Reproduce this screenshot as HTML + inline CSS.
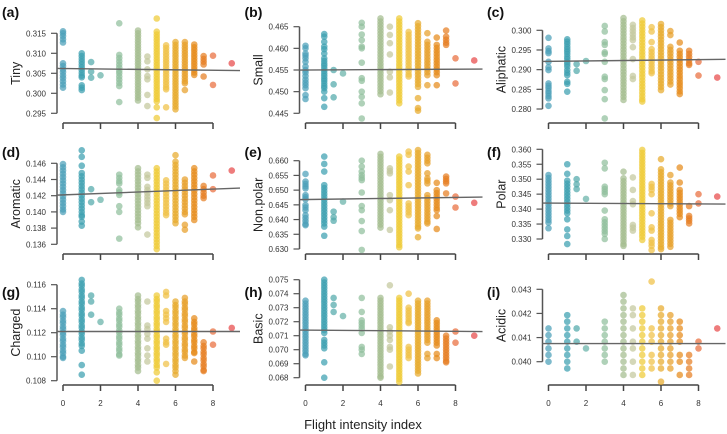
<!DOCTYPE html>
<html><head><meta charset="utf-8"><style>
html,body{margin:0;padding:0;background:#fff;width:727px;height:434px;overflow:hidden}
svg text{font-family:"Liberation Sans",sans-serif}
</style></head><body>
<svg id="chart" width="727" height="434" viewBox="0 0 727 434" xmlns="http://www.w3.org/2000/svg">
<text x="363" y="429" font-size="13" fill="#222" text-anchor="middle">Flight intensity index</text>
</svg>
<script>
const xCats=[0,1,1.5,2,3,4,4.5,5,5.5,6,6.5,7,7.5,8,9];
const xTickLabels=[0,2,4,6,8];
const catColors=["#4b9fb8","#3c9fb0","#52a9ab","#66b2a8","#90bf9c","#a3bc8f","#c3c89c","#efcb36","#f0c045","#e8ab2c","#e89f2a","#e68b1b","#e67e22","#e96d3d","#e84a4a"];
const panelLetters=["(a)","(b)","(c)","(d)","(e)","(f)","(g)","(h)","(i)"];
const panelTitles=["Tiny","Small","Aliphatic","Aromatic","Non.polar","Polar","Charged","Basic","Acidic"];
const tinyTicks=[0.295,0.300,0.305,0.310,0.315];
const smallTicks=[0.445,0.450,0.455,0.460,0.465];
const aliphaticTicks=[0.280,0.285,0.290,0.295,0.300];
const aromaticTicks=[0.136,0.138,0.140,0.142,0.144,0.146];
const nonpolarTicks=[0.630,0.635,0.640,0.645,0.650,0.655,0.660];
const polarTicks=[0.330,0.335,0.340,0.345,0.350,0.355,0.360];
const chargedTicks=[0.108,0.110,0.112,0.114,0.116];
const basicTicks=[0.068,0.069,0.070,0.071,0.072,0.073,0.074,0.075];
const acidicTicks=[0.040,0.041,0.042,0.043];
const trendTiny=[0.3062,0.3057];
const trendSmall=[0.4550,0.4552];
const trendAliphatic=[0.2921,0.2926];
const trendAromatic=[0.1421,0.1429];
const trendNonpolar=[0.6468,0.6476];
const trendPolar=[0.3420,0.3417];
const trendCharged=[0.1121,0.1121];
const trendBasic=[0.0714,0.0713];
const trendAcidic=[0.04075,0.04075];

const tinyVals=[
[.3155,.315,.3143,.3135,.3127,.3075,.3068,.306,.3053,.3045,.3038,.303,.3022,.3014],
[.310,.3093,.3086,.3079,.3072,.3065,.3058,.3051,.3044,.304,.302,.3014,.3008],
[.3078,.3054,.3039],[.3045],
[.3175,.3096,.3088,.308,.3072,.3064,.3056,.305,.3042,.3034,.3026,.3018,.2978],
[.3157,.315,.3143,.3136,.3129,.3122,.3115,.3108,.3101,.3094,.3087,.308,.3073,.3066,.3059,.3052,.3045,.3038,.3031,.3024,.3017,.301,.3003,.2996,.2989,.2982],
[.3092,.308,.306,.3043,.3035,.2996,.2968],
[.3187,.3154,.3147,.314,.3133,.3126,.3119,.3112,.3105,.3098,.3091,.3084,.3077,.307,.3063,.3056,.3049,.3042,.3035,.3028,.3021,.3014,.3007,.30,.2993,.2986,.298,.2965,.2938],
[.312,.3113,.3106,.3099,.3092,.3085,.3078,.3071,.3064,.3057,.305,.3043,.3036,.3029,.3022,.3015,.301,.2965],
[.3128,.3121,.3114,.3107,.31,.3093,.3086,.3079,.3072,.3065,.3058,.3051,.3044,.3037,.303,.3023,.3016,.3009,.3002,.2995,.2988,.2981,.2974,.2967,.296],
[.3128,.3121,.3114,.3107,.31,.3093,.3086,.3079,.3072,.3065,.3058,.3051,.3044,.3037,.303,.3025,.3008],
[.3122,.3115,.3108,.3101,.3094,.3087,.308,.3073,.3066,.3059,.3052,.3046],
[.3093,.3086,.3079,.3072,.3042],[.3094,.3021],[.3075]];
const smallVals=[
[.4606,.460,.4588,.4583,.4577,.4569,.4558,.455,.4544,.4536,.4528,.4521,.4515,.4508,.4492,.4483],
[.4633,.4627,.4615,.4604,.4598,.4588,.4577,.4571,.4565,.456,.4554,.4548,.4542,.4536,.453,.4525,.4519,.4513,.4508,.450,.4485,.4465],
[.455,.4517,.4487],[.4542],
[.4659,.465,.4632,.4619,.4604,.460,.4567,.4531,.4525,.450,.4488,.4473,.4438],
[.4669,.4662,.4655,.4648,.4641,.4634,.4627,.462,.4613,.4606,.4599,.4592,.4585,.4578,.4571,.4564,.4557,.455,.4543,.4536,.4529,.4522,.4515,.4508,.4501,.4494],
[.465,.4631,.4612,.4586,.4546,.4533,.4498],
[.4669,.4662,.4655,.4648,.4641,.4634,.4627,.462,.4613,.4606,.4599,.4592,.4585,.4578,.4571,.4564,.4557,.455,.4543,.4536,.4529,.4522,.4515,.4508,.4501,.4494,.4487,.448,.4473],
[.4638,.4631,.4624,.4617,.461,.4603,.4596,.4589,.4582,.4575,.4568,.4561,.4554,.4547,.454,.4535],
[.4658,.4651,.4644,.4637,.463,.4623,.4616,.4609,.4602,.4595,.4588,.4581,.4574,.4567,.456,.4553,.4546,.4539,.4532,.4525,.4518,.4511,.4485,.4462,.4456],
[.4635,.4615,.4608,.4601,.4594,.4587,.458,.4573,.4566,.4559,.4552,.4545,.4538,.4515],
[.4625,.4608,.4601,.4594,.4587,.458,.4573,.4566,.4559,.4552,.4545,.4538,.4515],
[.4641,.4627,.462,.4613,.4608],[.4577,.4519],[.4572]];
const aliphaticVals=[
[.2981,.2954,.2947,.2942,.292,.2906,.2899,.2865,.2859,.2853,.2846,.284,.2833,.2827,.2808],
[.2977,.2971,.2965,.2958,.2952,.2946,.294,.2933,.2927,.292,.2914,.2908,.2899,.2892,.2886,.2869,.2864,.2844],
[.2914,.2897],[.2922],
[.3011,.2997,.297,.2963,.2944,.294,.292,.2882,.2876,.2848,.2825,.2776],
[.3031,.3023,.3015,.3007,.2999,.2991,.2983,.2975,.2967,.2959,.2951,.2943,.2935,.2927,.2919,.2911,.2903,.2895,.2887,.2879,.2871,.2863,.2855,.2847,.2839,.2831,.2823],
[.3014,.3006,.2998,.299,.2982,.2975,.2957,.2927,.2884,.2876],
[.3025,.3017,.3009,.3001,.2993,.2985,.2977,.2969,.2961,.2953,.2945,.2937,.2929,.2921,.2913,.2905,.2897,.2889,.2881,.2873,.2865,.2857,.2849,.2841,.2833,.2825,.2819],
[.3008,.2997,.297,.2952,.2944,.2936,.2928,.292,.2912,.2904,.2896,.2891],
[.3016,.3008,.30,.2992,.2984,.2976,.2968,.296,.2952,.2944,.2936,.2928,.292,.2912,.2904,.2896,.2888,.288,.2872,.2864,.2856,.2848],
[.2998,.2988,.2958,.295,.2942,.2934,.2926,.2918,.291,.2902,.2894,.2886,.2878,.287,.2862],
[.2969,.2948,.294,.2932,.2924,.2916,.2908,.29,.2892,.2884,.2876,.2868,.2861,.2853,.2845,.2838],
[.2948,.294,.2932,.2924,.2916,.2912],[.292,.2885],[.288]];
const aromaticVals=[
[.1459,.1455,.1451,.1447,.1443,.1439,.1435,.1431,.1427,.1423,.1419,.1415,.1411,.1407,.1403,.14],
[.1476,.1468,.1457,.1448,.1444,.144,.1436,.1432,.1428,.1424,.142,.1416,.1412,.1408,.1404,.14,.1396,.1394,.1388,.1383],
[.1428,.1412],[.1415],
[.1446,.1442,.1438,.1435,.1427,.1424,.1421,.1407,.14,.1367],
[.1454,.145,.1446,.1442,.1438,.1434,.143,.1426,.1422,.1418,.1414,.141,.1406,.1402,.1398,.1394,.139,.1386,.1381],
[.1446,.1442,.1431,.1427,.1423,.1419,.1415,.1411,.1407,.1372],
[.1454,.145,.1446,.1442,.1438,.1434,.143,.1426,.1422,.1418,.1414,.141,.1406,.1402,.1398,.1394,.139,.1386,.1382,.1378,.1374,.137,.1366,.1362,.1358,.1354],
[.1439,.1435,.1431,.1427,.1423,.1419,.1415,.1411,.1407,.1403,.1399,.1396],
[.147,.1462,.1458,.1454,.145,.1446,.1442,.1438,.1434,.143,.1426,.1422,.1418,.1414,.141,.1406,.1402,.1398,.1394,.139,.1386],
[.144,.1436,.1432,.1428,.1424,.142,.1416,.1412,.1408,.1404,.14,.1397,.1384,.1378],
[.1454,.145,.1446,.1442,.1438,.1434,.143,.1426,.1422,.1418,.1414,.141,.1406,.1402,.1398,.1394,.139],
[.1432,.1428,.1424,.142,.1417],[.1445,.1428],[.1451]];
const nonpolarVals=[
[.6555,.6529,.6521,.6513,.6506,.6483,.6476,.6469,.6449,.6441,.6432,.6415,.6405,.6395,.6385,.6381],
[.6614,.6589,.6563,.6517,.6507,.6497,.6487,.6477,.6467,.6457,.6447,.6437,.6427,.6417,.6407,.6397,.6387,.6376,.6345],
[.6427,.6408,.6396],[.6461],
[.66,.658,.6563,.6551,.6542,.6534,.6492,.6446,.6432,.6395,.6361,.6297],
[.6623,.6613,.6603,.6593,.6583,.6573,.6563,.6553,.6543,.6533,.6523,.6513,.6503,.6493,.6483,.6473,.6463,.6453,.6443,.6433,.6423,.6413,.6403,.6393,.6383,.6373],
[.6574,.6565,.6557,.6483,.6466,.6432,.6365],
[.6614,.6604,.6594,.6584,.6574,.6564,.6554,.6544,.6534,.6524,.6514,.6504,.6494,.6484,.6474,.6464,.6454,.6444,.6434,.6424,.6414,.6404,.6394,.6384,.6374,.6364,.6354,.6344,.6334,.6324,.6314,.6306],
[.6631,.662,.658,.6563,.6517,.6455,.6445,.6435,.6425,.6415],
[.6636,.6626,.6616,.6606,.6596,.6586,.6576,.6566,.6556,.6546,.6536,.6526,.6516,.6506,.6496,.6486,.6476,.6466,.6456,.6446,.6436,.6426,.6416,.6406,.6396,.6386,.6376,.637,.634],
[.662,.661,.66,.6591,.6557,.654,.6532,.6523,.6483,.6473,.6463,.6453,.6443,.6433,.6423,.6413,.6403,.6393,.6387],
[.6525,.65,.649,.648,.647,.646,.645,.644,.6432,.6412,.6368],
[.6546,.6538,.653,.6523,.6489],[.6478,.6441],[.6457]];
const polarVals=[
[.3514,.3504,.3494,.3484,.3474,.3464,.3454,.3444,.3434,.3424,.3414,.3404,.3394,.3384,.3374,.3364,.3355,.3336],
[.355,.3518,.3495,.3485,.3475,.3465,.3455,.3445,.3435,.3425,.3415,.3405,.3395,.3386,.3366,.3332,.331,.3283],
[.35,.3483,.3467],[.3434],
[.3555,.3536,.3475,.3467,.3458,.345,.3395,.3366,.3356,.3346,.3336,.3326,.3317,.33],
[.3525,.3503,.3493,.3483,.3473,.3463,.3453,.3443,.3433,.3423,.3413,.3403,.3393,.3383,.3373,.3363,.3353,.3343,.3333,.3323,.3313,.3303,.3293,.3283,.3277],
[.3506,.3464,.3427,.3416,.3347,.3338,.3328],
[.3598,.3588,.3578,.3568,.3558,.3548,.3538,.3528,.3518,.3508,.3498,.3488,.3478,.3468,.3458,.3448,.3438,.3428,.3418,.3408,.3398,.3388,.3378,.3368,.3358,.3348,.3338,.3328,.3318,.3308,.3297],
[.3484,.3474,.3464,.345,.3386,.3339,.3328,.3297,.3287,.3277,.3263],
[.3567,.3533,.3523,.3513,.3503,.3493,.3483,.3473,.3463,.3453,.3443,.3433,.3423,.3413,.3403,.3393,.3383,.3373,.3363,.3353,.3343,.3333,.3323,.3313,.3303,.3293,.3283,.3273,.3266],
[.3514,.3489,.3479,.3469,.3459,.3449,.3439,.3429,.3419,.341,.3364,.3354,.3344,.3334,.3324,.3314,.3304,.3294,.3284,.3274],
[.3539,.3489,.3464,.3454,.3444,.3434,.3424,.3414,.3404,.3394,.3384,.3373],
[.341,.3377,.3369,.3361,.3352],[.345,.3419],[.3442]];
const chargedVals=[
[.1138,.1135,.1133,.113,.1128,.1125,.1123,.112,.1118,.1115,.1113,.111,.1108,.1105,.1103,.11,.1099],
[.1164,.1161,.1159,.1156,.1154,.1151,.1149,.1146,.1144,.1141,.1139,.1136,.1134,.1131,.1129,.1126,.1124,.1121,.1119,.1116,.1114,.1111,.1109,.1105,.1093,.1085],
[.1151,.1146,.1135],[.1129],
[.114,.1137,.1135,.1132,.113,.1127,.1125,.1122,.112,.1117,.1115,.1112,.111,.1107,.1105,.1102,.1101],
[.1151,.1148,.1146,.1143,.1141,.1138,.1136,.1133,.1131,.1128,.1126,.1123,.1121,.1118,.1116,.1113,.1111,.1108,.1106,.1103,.1101,.1098,.1096,.1093,.1091,.1088],
[.1146,.1126,.1123,.1119,.1115,.1107,.1101,.1096],
[.1151,.1148,.1146,.1143,.1141,.1138,.1136,.1133,.1131,.1128,.1126,.1123,.1121,.1118,.1116,.1113,.1111,.1108,.1106,.1103,.1101,.1098,.1096,.1093,.1091,.1087,.108],
[.1154,.1151,.1138,.1135,.1132,.1129,.1115,.1112,.111,.1094],
[.1146,.1143,.1141,.1138,.1136,.1133,.1131,.1128,.1126,.1123,.1121,.1118,.1116,.1113,.1111,.1108,.1106,.1103,.1101,.1098,.1096,.1093,.1091,.1088,.1085],
[.1149,.1146,.1144,.1141,.1139,.1136,.1134,.1131,.1129,.1126,.1124,.1121,.1119,.1116,.1114,.1111,.1109,.1106,.1104,.1101,.1099],
[.1132,.1129,.1127,.1124,.1122,.1119,.1117,.1114,.1112,.1109,.1107,.1104,.1103,.1096],
[.1112,.1109,.1107,.1104,.1102,.1099,.1097,.1094,.1092,.1089,.1088],[.1121,.111],[.1124]];
const basicVals=[
[.0735,.0733,.0731,.0729,.0727,.0725,.0723,.0721,.0719,.0717,.0715,.0713,.0711,.0709,.0707,.0705,.0703,.0701,.0699,.0697,.0696],
[.075,.0748,.0746,.0744,.0742,.074,.0738,.0736,.0734,.0732,.073,.0728,.0726,.0724,.0722,.072,.0718,.0716,.0714,.0712,.0707,.0705,.0703,.0701,.0691,.068],
[.0737,.0732,.0727],[.0724],
[.0737,.0727,.0721,.0719,.0717,.0715,.0712,.0702,.07,.0697],
[.0737,.0735,.0733,.0731,.0729,.0727,.0725,.0723,.0721,.0719,.0717,.0715,.0713,.0711,.0709,.0707,.0705,.0703,.0701,.0699,.0697,.0695,.0693,.0691,.0689,.0687,.0685,.0683,.0681,.068],
[.0746,.0716,.0713,.071,.0707,.0702,.07,.0688],
[.0737,.0735,.0733,.0731,.0729,.0727,.0725,.0723,.0721,.0719,.0717,.0715,.0713,.0711,.0709,.0707,.0705,.0703,.0701,.0699,.0697,.0695,.0693,.0691,.0689,.0687,.0685,.0683,.0681,.0679,.0677],
[.074,.073,.0728,.0726,.0724,.0722,.072,.0719,.0702,.07,.0698,.0696,.0694],
[.0735,.0733,.0731,.0729,.0727,.0725,.0723,.0721,.0719,.0717,.0715,.0713,.0711,.0709,.0707,.0705,.0703,.0701,.0699,.0697,.0695,.0693,.0691,.0689,.0687,.0685,.0683],
[.0735,.0733,.0731,.0729,.0727,.0725,.0723,.0721,.0719,.0717,.0715,.0713,.0711,.0709,.0707,.0705,.0697,.0694],
[.0721,.0719,.0717,.0715,.0713,.0711,.0709,.0707,.0705,.0703,.0697,.0694],
[.071,.0708,.0706,.0704,.0702,.07,.0698,.0696,.0694,.0692,.0691],[.0713,.0705],[.071]];
const acidicVals=[
[.04138,.0411,.04083,.04055,.04028,.040],
[.04193,.04166,.04138,.0411,.04083,.04055,.04028,.040,.03972],
[.04138,.04083],[.04055],
[.04166,.04138,.0411,.04083,.04055,.04028,.040],
[.04276,.04249,.04221,.04193,.04166,.04138,.0411,.04083,.04055,.04028,.040,.03972,.03945],
[.04221,.04193,.04138,.04083,.04055,.040,.03945],
[.04221,.04193,.04166,.04138,.0411,.04083,.04055,.04028,.040,.03972,.03945],
[.04332,.04138,.0411,.04083,.04028,.040,.03972],
[.04221,.04193,.04166,.04138,.0411,.04083,.04055,.04028,.040,.03972,.03917],
[.04193,.04166,.04138,.0411,.04083,.04055,.04028,.040,.03972],
[.04166,.04138,.0411,.04083,.04028,.040,.03945],
[.04028,.040,.03972,.03945],[.04083,.04055],[.04138]];

const allVals=[tinyVals,smallVals,aliphaticVals,aromaticVals,nonpolarVals,polarVals,chargedVals,basicVals,acidicVals];
const allTicks=[tinyTicks,smallTicks,aliphaticTicks,aromaticTicks,nonpolarTicks,polarTicks,chargedTicks,basicTicks,acidicTicks];
const allTrends=[trendTiny,trendSmall,trendAliphatic,trendAromatic,trendNonpolar,trendPolar,trendCharged,trendBasic,trendAcidic];
const tickDecimals=[3,3,3,3,3,3,3,3,3];

const colX0=[63,305.5,548.5];
const rowBase=[123,254,385];
const pxPerUnit=18.75;
const yCal=[[0.315,33.3,0.295,113.3],[0.465,26.7,0.445,113.3],[0.300,30.3,0.280,109],
[0.146,163.3,0.136,244.3],[0.660,160.7,0.630,249],[0.360,149.3,0.330,239],
[0.116,284.7,0.108,380.7],[0.074,293.7,0.068,377.7],[0.043,289.3,0.040,361.7]];

const svg=document.getElementById('chart');
const NS='http://www.w3.org/2000/svg';
function mk(tag,attrs,parent){const e=document.createElementNS(NS,tag);for(const k in attrs)e.setAttribute(k,attrs[k]);(parent||svg).appendChild(e);return e;}

for(let p=0;p<9;p++){
  const col=p%3,row=Math.floor(p/3);
  const x0=colX0[col],base=rowBase[row];
  const c=yCal[p];
  const xs=v=>x0+v*pxPerUnit;
  const ys=v=>c[1]+(c[0]-v)*(c[3]-c[1])/(c[0]-c[2]);
  const g=mk('g',{});
  
  
  const lbl=mk('text',{x:col*242.5+2,y:row*140+17,'font-size':14,'font-weight':'bold',fill:'#111'},g);
  lbl.textContent=panelLetters[p];
  
  
  const ticks=allTicks[p];
  const yTop=ys(ticks[ticks.length-1]),yBot=ys(ticks[0]);
  const ax=x0-6;
  const yl=mk('line',{x1:ax,y1:yTop,x2:ax,y2:yBot,stroke:'#555','stroke-width':1.5},g);
  
  
  ticks.forEach(t=>{
    const y=ys(t);
    mk('line',{x1:ax-6,y1:y,x2:ax,y2:y,stroke:'#555','stroke-width':1.2},g);
    const tt=mk('text',{x:ax-11,y:y+3,'font-size':8,fill:'#333','text-anchor':'end'},g);
    tt.textContent=t.toFixed(tickDecimals[p]);
    
    
  });
  const yt=mk('text',{x:0,y:0,'font-size':12.5,fill:'#222','text-anchor':'middle',transform:`translate(${x0-43},${(yTop+yBot)/2}) rotate(-90)`},g);
  yt.textContent=panelTitles[p];
  
  
  const xl=mk('line',{x1:xs(0),y1:base,x2:xs(8),y2:base,stroke:'#444','stroke-width':1.5},g);
  
  
  xTickLabels.forEach(t=>{
    mk('line',{x1:xs(t),y1:base,x2:xs(t),y2:base+6,stroke:'#444','stroke-width':1.5},g);
    if(row===2){
      const tl=mk('text',{x:xs(t),y:base+21,'font-size':8,fill:'#333','text-anchor':'middle'},g);
      tl.textContent=t;
      
      
    }
  });
  const vals=allVals[p];
  vals.forEach((arr,ci)=>{
    arr.forEach(v=>{
      const d=mk('circle',{cx:xs(xCats[ci]),cy:ys(v),r:3.3,fill:catColors[ci],'fill-opacity':0.72},g);
      
      
    });
  });
  const tr=allTrends[p];
  const lx1=-0.32,lx2=9.44;
  const slope=(tr[1]-tr[0])/9;
  const rl=mk('line',{x1:xs(lx1),y1:ys(tr[0]+slope*lx1),x2:xs(lx2),y2:ys(tr[0]+slope*lx2),stroke:'#666','stroke-width':1.4},g);
  
  
}
</script>
</body></html>
